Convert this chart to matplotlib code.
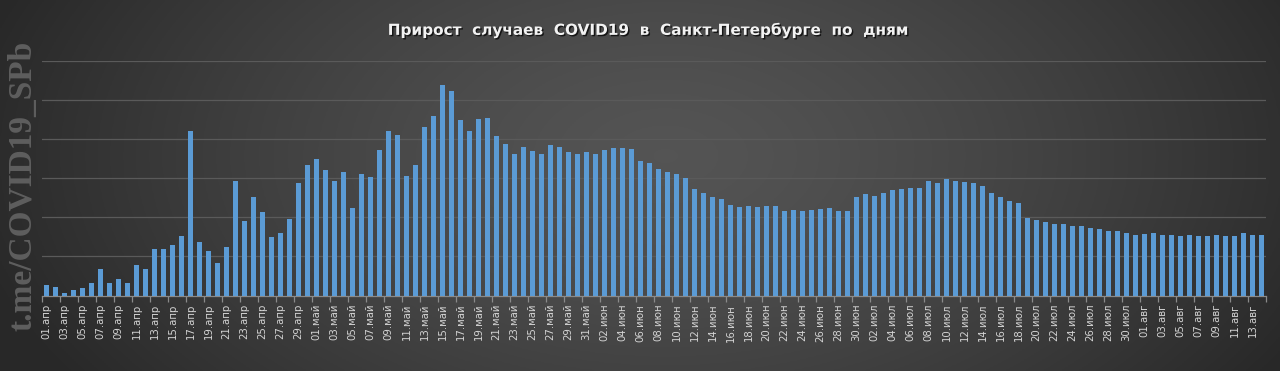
import matplotlib.pyplot as plt
import matplotlib.patheffects as pe
import numpy as np
import pandas as pd

# daily new cases (one gridline = 100)
april = [26, 21, 7, 13, 18, 32, 67, 32, 42, 32, 79, 67, 119, 119, 128, 152, 420, 138, 113, 84,
         124, 292, 190, 251, 213, 149, 159, 197, 289, 333]
may = [348, 321, 294, 315, 223, 310, 303, 373, 422, 411, 305, 335, 432, 458, 539, 523, 448, 422,
       451, 454, 407, 387, 361, 380, 371, 361, 385, 381, 366, 361, 366]
june = [361, 373, 378, 378, 376, 345, 338, 324, 315, 310, 300, 272, 261, 253, 248, 232, 226, 230,
        226, 230, 228, 216, 218, 216, 218, 221, 223, 216, 216, 251]
july = [260, 255, 261, 269, 272, 276, 276, 293, 289, 297, 293, 291, 288, 279, 263, 253, 242, 237,
        199, 192, 187, 182, 182, 177, 177, 172, 171, 166, 164, 159, 156]
august = [158, 160, 156, 156, 153, 155, 153, 152, 156, 153, 153, 159, 156, 156]

month_names = {4: 'апр', 5: 'май', 6: 'июн', 7: 'июл', 8: 'авг'}
days = pd.date_range('2020-04-01', '2020-08-14')
day_labels = ['%02d.%s' % (d.day, month_names[d.month]) for d in days]

values = april + may + june + july + august
x = np.arange(len(values))

fig = plt.figure(figsize=(12.8, 3.71), dpi=100)

# dark radial background
bg = fig.add_axes([0, 0, 1, 1], zorder=-10)
gx, gy = np.meshgrid(np.linspace(0, 1, 640), np.linspace(0, 1, 186))
r = np.sqrt(((gx - 0.52) / 0.55) ** 2 + ((gy - 0.42) / 1.1) ** 2)
shade = 0.33 - 0.17 * np.clip(r, 0, 1) ** 1.4
bg.imshow(np.dstack([shade] * 3), aspect='auto', extent=(0, 1, 0, 1))
bg.axis('off')

ax = fig.add_axes([42 / 1280, 75.5 / 371, 1224 / 1280, 234.5 / 371])
ax.patch.set_alpha(0)
ax.bar(x, values, width=0.55, color='#5B9BD5', zorder=3)
ax.set_xlim(-0.5, len(values) - 0.5)
ax.set_ylim(0, 600)
ax.set_yticks(np.arange(100, 601, 100))
ax.yaxis.grid(True, color='#5a5a5a', linewidth=0.9)
ax.tick_params(axis='y', left=False, labelleft=False)
for s in ['top', 'right', 'left']:
    ax.spines[s].set_visible(False)
ax.spines['bottom'].set_color('#8a8a8a')
ax.spines['bottom'].set_linewidth(0.9)

ax.set_xticks(np.arange(-0.5, len(values), 2))
ax.set_xticklabels([])
ax.tick_params(axis='x', which='major', length=4, color='#8a8a8a', width=0.9)
ax.set_xticks(x[::2], minor=True)
ax.set_xticklabels(day_labels[::2], minor=True, rotation=90, fontsize=7.3, color='#d4d4d4')
ax.tick_params(axis='x', which='minor', length=0, pad=6)

fig.text(647 / 1280, 1 - 30 / 371, 'Прирост  случаев  COVID19  в  Санкт-Петербурге  по  дням',
         ha='center', va='center', fontsize=11, fontweight='bold', color='#f2f2f2',
         path_effects=[pe.withSimplePatchShadow(offset=(1, -1), shadow_rgbFace='black', alpha=0.7)])

fig.text(23 / 1280, 1 - 186 / 371, 't.me/COVID19_SPb', rotation=90, ha='center', va='center',
         family='Liberation Serif', fontweight='bold', fontsize=24, color='#5e5e5e')

fig.savefig('out.png', dpi=100)
